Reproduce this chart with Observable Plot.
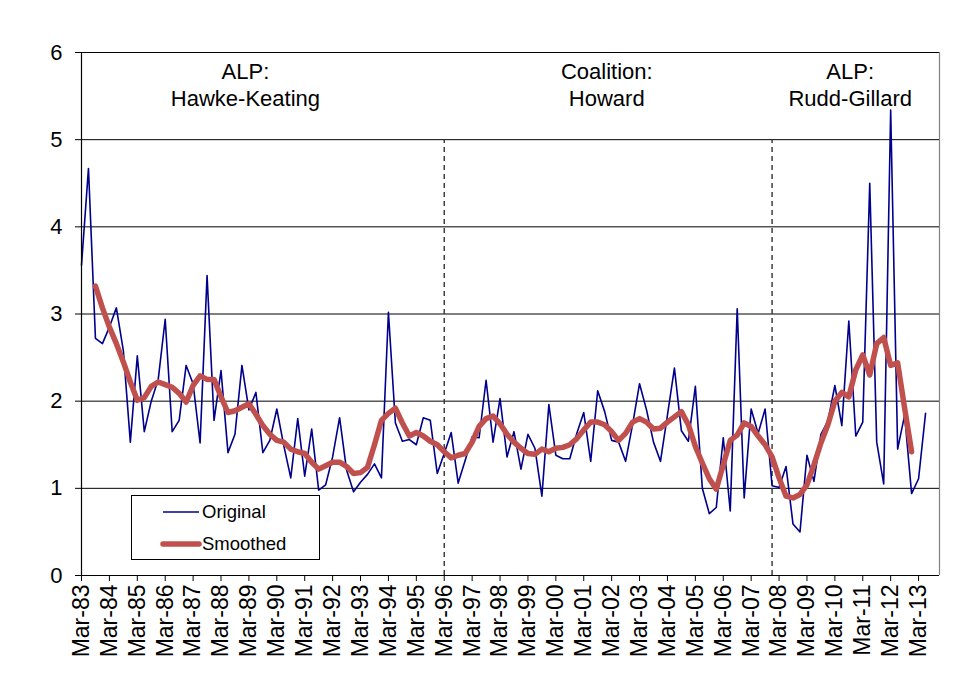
<!DOCTYPE html>
<html>
<head>
<meta charset="utf-8">
<script src="https://cdn.jsdelivr.net/npm/d3@7"></script>
<script src="https://cdn.jsdelivr.net/npm/@observablehq/plot@0.6"></script>
<style>
  html, body { margin: 0; padding: 0; background: #fff; }
  #chart { position: relative; width: 971px; height: 676px; }
</style>
</head>
<body>
<div id="chart"></div>
<script>
// Quarterly series, index 0 = Mar-83 (one step = one quarter)
const originalValues = [
  3.56, 4.67, 2.72, 2.66, 2.85, 3.07, 2.58, 1.53, 2.52, 1.65,
  2.00, 2.25, 2.94, 1.65, 1.78, 2.41, 2.20, 1.52, 3.44, 1.78,
  2.35, 1.41, 1.62, 2.41, 1.90, 2.10, 1.41, 1.55, 1.91, 1.49,
  1.12, 1.80, 1.14, 1.68, 0.98, 1.04, 1.36, 1.81, 1.21, 0.96,
  1.07, 1.16, 1.28, 1.12, 3.02, 1.75, 1.54, 1.56, 1.50, 1.81,
  1.78, 1.17, 1.40, 1.64, 1.06, 1.32, 1.59, 1.58, 2.24, 1.53,
  2.03, 1.36, 1.65, 1.22, 1.62, 1.46, 0.91, 1.96, 1.38, 1.34,
  1.34, 1.63, 1.87, 1.31, 2.12, 1.88, 1.55, 1.53, 1.31, 1.73,
  2.20, 1.90, 1.53, 1.31, 1.84, 2.38, 1.66, 1.54, 2.17, 1.00,
  0.71, 0.78, 1.58, 0.74, 3.06, 0.89, 1.91, 1.63, 1.91, 1.03,
  1.01, 1.25, 0.59, 0.50, 1.38, 1.08, 1.62, 1.77, 2.18, 1.72,
  2.92, 1.60, 1.76, 4.50, 1.53, 1.05, 5.34, 1.45, 1.84, 0.94,
  1.11, 1.86
];
const smoothedValues = [
  null, null, 3.32, 3.07, 2.85, 2.66, 2.45, 2.22, 2.01, 2.04,
  2.17, 2.22, 2.19, 2.16, 2.09, 1.99, 2.18, 2.29, 2.25, 2.25,
  2.05, 1.87, 1.89, 1.93, 1.97, 1.85, 1.72, 1.62, 1.55, 1.53,
  1.45, 1.42, 1.40, 1.30, 1.22, 1.26, 1.30, 1.30, 1.25, 1.17,
  1.18, 1.24, 1.50, 1.78, 1.86, 1.92, 1.75, 1.60, 1.64, 1.60,
  1.54, 1.50, 1.42, 1.35, 1.38, 1.40, 1.53, 1.71, 1.80, 1.83,
  1.74, 1.62, 1.53, 1.46, 1.40, 1.39, 1.45, 1.42, 1.46, 1.47,
  1.50, 1.57, 1.67, 1.76, 1.76, 1.73, 1.65, 1.55, 1.63, 1.76,
  1.80, 1.76, 1.68, 1.69, 1.76, 1.82, 1.88, 1.73, 1.48, 1.29,
  1.11, 0.99, 1.27, 1.55, 1.61, 1.75, 1.71, 1.60, 1.50, 1.36,
  1.12, 0.91, 0.89, 0.93, 1.04, 1.27, 1.52, 1.73, 2.00, 2.10,
  2.05, 2.36, 2.53, 2.30, 2.66, 2.73, 2.41, 2.44, 1.92, 1.42,
  null, null
];
const yearLabels = [
  "Mar-83","Mar-84","Mar-85","Mar-86","Mar-87","Mar-88","Mar-89","Mar-90",
  "Mar-91","Mar-92","Mar-93","Mar-94","Mar-95","Mar-96","Mar-97","Mar-98",
  "Mar-99","Mar-00","Mar-01","Mar-02","Mar-03","Mar-04","Mar-05","Mar-06",
  "Mar-07","Mar-08","Mar-09","Mar-10","Mar-11","Mar-12","Mar-13"
];
const yTicks = [0, 1, 2, 3, 4, 5, 6];
const lastCategory = 123;            // axis runs to Dec-13
const govChanges = [52, 99];         // Mar-96, Dec-07
const periodLabels = ["ALP:\nHawke-Keating", "Coalition:\nHoward", "ALP:\nRudd-Gillard"];
const periodCentres = [23.5, 75.3, 110.2];
const periodLabelY = 5.64;
const seriesNames = ["Original", "Smoothed"];

const rows = originalValues.map((v, i) => ({q: i, original: v, smoothed: smoothedValues[i]}));
const tickQuarters = yearLabels.map((d, k) => k * 4);
const annotations = periodLabels.map((t, k) => ({x: periodCentres[k], y: periodLabelY, text: t}));

const FONT = "Liberation Sans, Arial, Helvetica, sans-serif";

const chart = Plot.plot({
  width: 971,
  height: 676,
  marginLeft: 81,
  marginRight: 32,
  marginTop: 52,
  marginBottom: 101,
  style: {fontFamily: FONT, fontSize: "22px", color: "#000", background: "#fff", overflow: "visible"},
  x: {type: "linear", domain: [0, lastCategory]},
  y: {domain: [0, 6]},
  marks: [
    Plot.ruleY(yTicks.filter(d => d > 0), {stroke: "#000", strokeWidth: 1}),
    Plot.ruleX([lastCategory], {y1: 0, y2: 6, stroke: "#808080", strokeWidth: 1.2}),
    Plot.ruleX(govChanges, {y1: 0, y2: 5, stroke: "#333", strokeWidth: 1.4, strokeDasharray: "5,4"}),
    Plot.line(rows, {x: "q", y: "original", stroke: "#00008B", strokeWidth: 1.6}),
    Plot.line(rows.filter(d => d.smoothed != null), {x: "q", y: "smoothed", stroke: "#C0504D", strokeWidth: 5.5, strokeLinejoin: "round", strokeLinecap: "round"}),
    Plot.ruleX([0], {y1: 0, y2: 6, stroke: "#000", strokeWidth: 1.2}),
    Plot.ruleY([0], {x1: 0, x2: lastCategory, stroke: "#000", strokeWidth: 1.2}),
    Plot.axisY({ticks: yTicks, tickSize: 6, tickPadding: 13, label: null, tickFormat: d => String(d), fontSize: 22}),
    Plot.axisX({ticks: tickQuarters, tickSize: 6, tickPadding: 3, tickRotate: -90, label: null,
      tickFormat: d => yearLabels[d / 4], fontSize: 23}),
    Plot.text(annotations, {x: "x", y: "y", text: "text", fontSize: 22, lineHeight: 1.2, fill: "#000", textAnchor: "middle"})
  ]
});

document.getElementById("chart").appendChild(chart);

// Legend box (inside the plot area, lower left)
const svg = d3.select(chart);
const lg = svg.append("g").attr("font-family", FONT).attr("font-size", "18.5px").attr("text-anchor", "start");
lg.append("rect").attr("x", 131.5).attr("y", 495.5).attr("width", 188).attr("height", 64)
  .attr("fill", "#fff").attr("stroke", "#000").attr("stroke-width", 1);
const legendStyles = [
  {stroke: "#00008B", width: 1.6, y: 512},
  {stroke: "#C0504D", width: 5.5, y: 544}
];
seriesNames.forEach((name, k) => {
  const s = legendStyles[k];
  lg.append("line").attr("x1", 163).attr("x2", 199).attr("y1", s.y).attr("y2", s.y)
    .attr("stroke", s.stroke).attr("stroke-width", s.width).attr("stroke-linecap", k ? "round" : "butt");
  lg.append("text").attr("x", 202).attr("y", s.y).attr("dy", "0.35em").attr("fill", "#000")
    .attr("text-anchor", "start").text(name);
});
</script>
</body>
</html>
